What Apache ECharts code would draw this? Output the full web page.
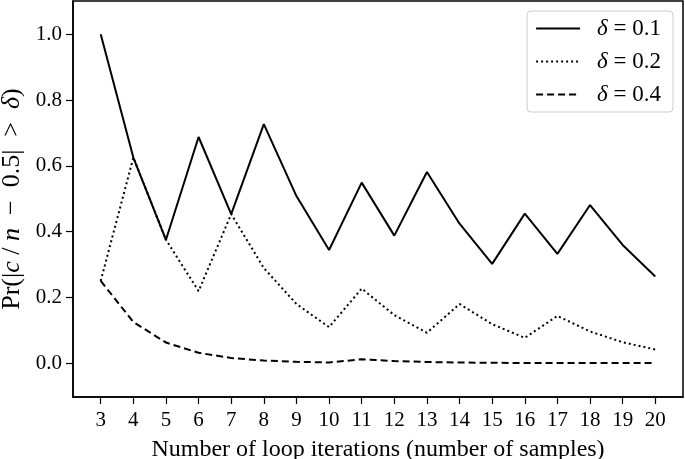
<!DOCTYPE html>
<html><head><meta charset="utf-8">
<script src="https://cdn.jsdelivr.net/npm/echarts@6/dist/echarts.min.js"></script>
<style>html,body{margin:0;padding:0;background:#fff}#c{width:685px;height:459px}</style>
</head><body><div id="c"></div>
<script>
const iterations = [3,4,5,6,7,8,9,10,11,12,13,14,15,16,17,18,19,20];
const delta01 = [1.0,0.625,0.375,0.6875,0.4531,0.7266,0.5078,0.3438,0.5488,0.3877,0.5811,0.4240,0.3018,0.4545,0.3323,0.4807,0.3593,0.2632];
const delta02 = [0.25,0.625,0.375,0.2188,0.4531,0.2891,0.1797,0.1094,0.2266,0.1460,0.0923,0.1796,0.1185,0.0768,0.1435,0.0963,0.0636,0.0414];
const delta04 = [0.25,0.125,0.0625,0.0313,0.0156,0.0078,0.0039,0.0020,0.0117,0.0063,0.0034,0.0018,0.0010,0.0005,0.0003,0.0001,0.0001,0.0000];
const yTicks = [0.0,0.2,0.4,0.6,0.8,1.0];
const seriesNames = ['δ = 0.1','δ = 0.2','δ = 0.4'];

const FONT = '"Liberation Serif","DejaVu Serif",serif';
const pair = (ys) => iterations.map((x,i)=>[x, ys[i]]);
const chart = echarts.init(document.getElementById('c'), null, {renderer:'canvas'});
chart.setOption({
  animation:false,
  backgroundColor:'#fff',
  grid:{left:73,right:2,top:1,bottom:62,show:true,borderColor:'#000',borderWidth:1.5,containLabel:false,outerBoundsMode:'none'},
  legend:{
    right:12, top:11, orient:'vertical', itemWidth:44, itemHeight:14, itemGap:10,
    padding:[6,12,6,8], backgroundColor:'#fff', borderColor:'#cccccc', borderWidth:1, borderRadius:4,
    data:seriesNames,
    itemStyle:{opacity:0,color:'transparent',borderWidth:0},
    formatter:(name)=>'{i|δ}{r|'+name.slice(1)+'}',
    textStyle:{fontFamily:FONT,fontSize:23,color:'#000',padding:[0,0,0,12],
      rich:{i:{fontFamily:FONT,fontStyle:'italic',fontSize:23,color:'#000'},r:{fontFamily:FONT,fontSize:23,color:'#000'}}}
  },
  xAxis:{
    type:'value', min:2.15, max:20.85,
    name:'Number of loop iterations (number of samples)', nameLocation:'middle', nameGap:41,
    nameTextStyle:{fontFamily:FONT,fontSize:24,color:'#000'},
    axisLine:{show:true,onZero:false,lineStyle:{color:'#000',width:1.5}},
    axisTick:{show:true,length:7,lineStyle:{color:'#000',width:1.2},customValues:iterations},
    axisLabel:{fontFamily:FONT,fontSize:21,color:'#000',margin:13,customValues:iterations,formatter:(v)=>String(v)},
    splitLine:{show:false}
  },
  yAxis:{
    type:'value', min:-0.103, max:1.101,
    name:'{r|Pr(|}{i|c}{r| / }{i|n}{r|  −  0.5|  >  }{i|δ}{r|)}', nameLocation:'middle', nameGap:47,
    nameTextStyle:{fontFamily:FONT,fontSize:26,color:'#000',
      rich:{i:{fontFamily:FONT,fontStyle:'italic',fontSize:26,color:'#000'},r:{fontFamily:FONT,fontSize:26,color:'#000'}}},
    axisLine:{show:true,onZero:false,lineStyle:{color:'#000',width:1.5}},
    axisTick:{show:true,length:7,lineStyle:{color:'#000',width:1.2},customValues:yTicks},
    axisLabel:{fontFamily:FONT,fontSize:21,color:'#000',margin:11,customValues:yTicks,formatter:(v)=>v.toFixed(1)},
    splitLine:{show:false}
  },
  series:[
    {name:seriesNames[0],type:'line',data:pair(delta01),symbol:'none',lineStyle:{color:'#000',width:2,type:'solid'},itemStyle:{color:'#000'}},
    {name:seriesNames[1],type:'line',data:pair(delta02),symbol:'none',lineStyle:{color:'#000',width:2,type:[2,3]},itemStyle:{color:'#000'}},
    {name:seriesNames[2],type:'line',data:pair(delta04),symbol:'none',lineStyle:{color:'#000',width:2,type:[7,4]},itemStyle:{color:'#000'}}
  ]
});
</script></body></html>
